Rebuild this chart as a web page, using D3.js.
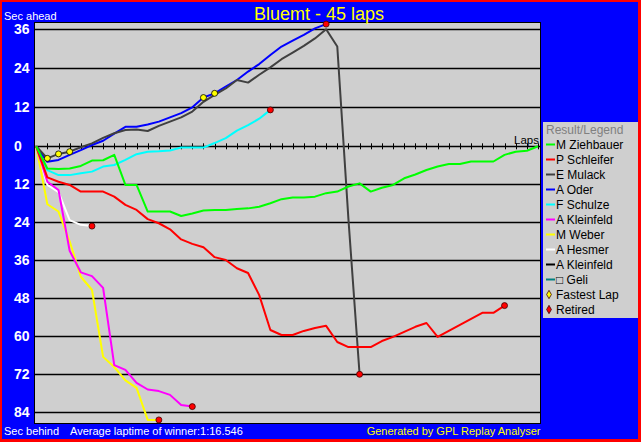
<!DOCTYPE html>
<html lang="en">

<head>
    <meta charset="UTF-8">
    <script src="https://d3js.org/d3.v7.min.js"></script>
    <title>Bluemt - 45 laps</title>
    <style>
        body { margin: 0; background: #ffffff; }
        text { font-family: "Liberation Sans", Arial, sans-serif; }
    </style>
</head>

<body>
    <div id="chart"></div>
    <script>
        // Data: seconds ahead (+) / behind (-) of the winner's average pace, one value per lap
        const drivers = ["M Ziehbauer", "P Schleifer", "E Mulack", "A Oder", "F Schulze",
            "A Kleinfeld", "M Weber", "A Hesmer", "A Kleinfeld", "\u25A1 Geli"];

        const ziehbauer = [0, -7, -7.2, -7, -6.2, -4.5, -4.4, -2.7, -12.2, -12.2, -20.6, -20.6, -20.6, -22, -21.2,
            -20.3, -20.1, -20.1, -19.8, -19.6, -19.1, -18, -16.7, -16.2, -16.2, -15.9, -14.8, -14.3, -12.7, -11.7,
            -14.3, -13.1, -12.2, -10.1, -8.9, -7.5, -6.4, -5.6, -5.6, -4.8, -4.8, -4.8, -2.7, -1.7, -1.4, 0];
        const schleifer = [0, -9.8, -11.2, -12.2, -14.3, -14.3, -14.3, -15.9, -18.5, -20.1, -23, -24.3, -26.2,
            -29.4, -30.8, -31.9, -35, -35.9, -38.5, -40, -47, -58, -59.6, -59.6, -58.3, -57.4, -56.7, -61.8, -63.4,
            -63.4, -63.4, -61.5, -60.2, -58.6, -57, -55.8, -60.2, -58.3, -56.4, -54.5, -52.6, -52.6, -50.3];
        const mulack = [0, -3.8, -2.4, -1.7, -0.3, 0.9, 2.6, 4, 5, 5.2, 4.7, 6.3, 7.6, 8.9, 10.7, 13.7, 15.8,
            17.8, 20.4, 19.6, 22, 24.3, 26.8, 28.8, 30.9, 33.2, 36, 30.7, -23, -72];
        const oder = [0, -4.9, -4.3, -2.7, -1.2, 0.4, 1.7, 3.9, 6, 6, 6.7, 7.6, 8.9, 10.2, 12, 15, 16.3, 18.4,
            20.4, 23, 25.3, 28.1, 30.7, 32.5, 34.3, 36.3, 37.6];
        const schulze = [0, -7.5, -9.1, -9.1, -8.5, -8, -6.4, -5.9, -4.3, -2.5, -1.7, -1.6, -1.3, -0.4, -0.4,
            -0.4, 1, 2.5, 4.8, 6.5, 8.5, 11.2];
        const kleinfeld = [0, -11.2, -13.8, -33, -39.8, -41, -44.7, -69.1, -70.6, -74.7, -76.8, -77.3, -78.5,
            -81.7, -82.2];
        const weber = [0, -18.3, -20.6, -30, -41.2, -45.3, -66.5, -69.7, -73.9, -76.3, -86.4, -86.4];
        const hesmer = [0, -12.2, -14.5, -23.3, -24.8, -25.2];
        const kleinfeld2 = [];
        const geli = [];

        const series = [ziehbauer, schleifer, mulack, oder, schulze, kleinfeld, weber, hesmer, kleinfeld2, geli];
        const totalLaps = 45;

        // Fastest lap markers: driver index and lap
        const fastestDriver = [2, 2, 2, 3, 3];
        const fastestLap = [1, 2, 3, 15, 16];

        const yTicks = [36, 24, 12, 0, -12, -24, -36, -48, -60, -72, -84];

        const colors = ["#00ff00", "#ff0000", "#404040", "#0000ff", "#00ffff",
            "#ff00ff", "#ffff00", "#ffffff", "#000000", "#008080"];

        // Create chart dimensions
        const width = 641;
        const height = 442;
        const plot = { left: 34.5, top: 22.5, right: 540.5, bottom: 423.5 };

        // Draw canvas
        const svg = d3.select("#chart")
            .append("svg")
            .attr("width", width)
            .attr("height", height);

        // Draw background
        svg.append("rect")
            .attr("width", width)
            .attr("height", height)
            .attr("fill", "#ff0000");

        svg.append("rect")
            .attr("x", 2)
            .attr("y", 2)
            .attr("width", width - 5)
            .attr("height", height - 5)
            .attr("fill", "#0000ff");

        svg.append("rect")
            .attr("x", plot.left)
            .attr("y", plot.top)
            .attr("width", plot.right - plot.left)
            .attr("height", plot.bottom - plot.top)
            .attr("fill", "#cfcfcf")
            .attr("stroke", "#000000")
            .attr("stroke-width", 1);

        // Create scales
        const xScale = d3.scaleLinear()
            .domain([0, totalLaps])
            .range([36.2, 538]);

        const yScale = d3.scaleLinear()
            .domain([36, 0, -84])
            .range([29.3, 146.3, 412.3]);

        // Grid lines and y labels
        svg.append("g")
            .selectAll("line")
            .data(yTicks)
            .join("line")
            .attr("x1", plot.left)
            .attr("x2", plot.right)
            .attr("y1", d => Math.round(yScale(d)) + 0.5)
            .attr("y2", d => Math.round(yScale(d)) + 0.5)
            .attr("stroke", "#000000")
            .attr("stroke-width", 1.3);

        svg.append("g")
            .selectAll("text")
            .data(yTicks)
            .join("text")
            .attr("x", 14)
            .attr("y", d => yScale(d) + 5)
            .attr("fill", "#ffffff")
            .attr("font-size", 14)
            .attr("font-weight", 700)
            .text(d => Math.abs(d));

        // Lap ticks on the zero line
        svg.append("g")
            .selectAll("line")
            .data(d3.range(1, totalLaps + 1))
            .join("line")
            .attr("x1", d => Math.round(xScale(d)) + 0.5)
            .attr("x2", d => Math.round(xScale(d)) + 0.5)
            .attr("y1", yScale(0) - 3)
            .attr("y2", yScale(0) + 3)
            .attr("stroke", "#000000")
            .attr("stroke-width", 1);

        svg.append("text")
            .attr("x", 539)
            .attr("y", 143.5)
            .attr("text-anchor", "end")
            .attr("font-size", 11.5)
            .attr("fill", "#000000")
            .text("Laps");

        // Draw data
        const line = d3.line()
            .x((d, i) => xScale(i))
            .y(d => yScale(d));

        svg.append("g")
            .selectAll("path")
            .data(series.map((s, i) => ({ s, i })).filter(d => d.s.length > 0).reverse())
            .join("path")
            .attr("d", d => line(d.s))
            .attr("fill", "none")
            .attr("stroke", d => colors[d.i])
            .attr("stroke-width", 2)
            .attr("stroke-linejoin", "round");

        // Fastest lap markers
        svg.append("g")
            .selectAll("circle")
            .data(fastestLap)
            .join("circle")
            .attr("cx", d => xScale(d))
            .attr("cy", (d, i) => yScale(series[fastestDriver[i]][d]))
            .attr("r", 3)
            .attr("fill", "#ffff00")
            .attr("stroke", "#000000")
            .attr("stroke-width", 0.8);

        // Retired markers
        const retired = series
            .filter(s => s.length > 0 && s.length - 1 < totalLaps)
            .map(s => ({ lap: s.length - 1, value: s[s.length - 1] }));

        svg.append("g")
            .selectAll("circle")
            .data(retired)
            .join("circle")
            .attr("cx", d => xScale(d.lap))
            .attr("cy", d => yScale(d.value))
            .attr("r", 3)
            .attr("fill", "#ff0000")
            .attr("stroke", "#400000")
            .attr("stroke-width", 0.8);

        // Titles
        svg.append("text")
            .attr("x", 319)
            .attr("y", 20)
            .attr("text-anchor", "middle")
            .attr("font-size", 18)
            .attr("fill", "#ffff00")
            .text("Bluemt - 45 laps");

        svg.append("text")
            .attr("x", 4)
            .attr("y", 19.5)
            .attr("font-size", 11)
            .attr("fill", "#ffffff")
            .text("Sec ahead");

        svg.append("text")
            .attr("x", 4)
            .attr("y", 434.5)
            .attr("font-size", 11)
            .attr("fill", "#ffffff")
            .text("Sec behind");

        svg.append("text")
            .attr("x", 70)
            .attr("y", 434.5)
            .attr("font-size", 11)
            .attr("fill", "#ffffff")
            .text("Average laptime of winner:1:16.546");

        svg.append("text")
            .attr("x", 540.5)
            .attr("y", 434.5)
            .attr("text-anchor", "end")
            .attr("font-size", 11)
            .attr("fill", "#ffff00")
            .text("Generated by GPL Replay Analyser");

        // Legend
        const legend = svg.append("g");

        legend.append("rect")
            .attr("x", 543)
            .attr("y", 122)
            .attr("width", 95)
            .attr("height", 196)
            .attr("fill", "#cfcfcf");

        legend.append("text")
            .attr("x", 546)
            .attr("y", 134)
            .attr("font-size", 12)
            .attr("fill", "#808080")
            .text("Result/Legend");

        const rowY = i => 144.5 + i * 15;

        legend.selectAll("line")
            .data(drivers)
            .join("line")
            .attr("x1", 546)
            .attr("x2", 555)
            .attr("y1", (d, i) => rowY(i))
            .attr("y2", (d, i) => rowY(i))
            .attr("stroke", (d, i) => colors[i])
            .attr("stroke-width", 2);

        const legendLabels = drivers.concat(["Fastest Lap", "Retired"]);

        legend.selectAll("text.item")
            .data(legendLabels)
            .join("text")
            .attr("class", "item")
            .attr("x", 556)
            .attr("y", (d, i) => rowY(i) + 4.5)
            .attr("font-size", 12)
            .attr("fill", "#000000")
            .text(d => d);

        legend.selectAll("path")
            .data(["#ffff00", "#ff0000"])
            .join("path")
            .attr("transform", (d, i) => `translate(549,${rowY(drivers.length + i)})`)
            .attr("d", d3.symbol(d3.symbolDiamond, 20))
            .attr("fill", d => d)
            .attr("stroke", "#400000")
            .attr("stroke-width", 0.8);
    </script>
</body>

</html>
